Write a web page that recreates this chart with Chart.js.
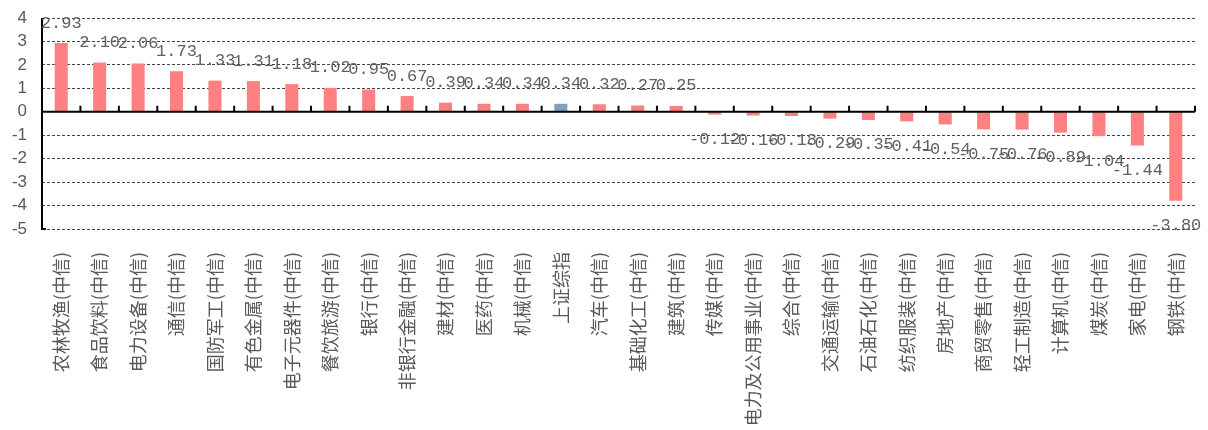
<!DOCTYPE html>
<html>
<head>
<meta charset="utf-8">
<script src="https://cdn.jsdelivr.net/npm/chart.js@4.4.0/dist/chart.umd.min.js"></script>
<style>
  html, body { margin: 0; padding: 0; background: #fff; }
  #box { width: 1208px; height: 430px; }
</style>
</head>
<body>
<div id="box"><canvas id="myChart"></canvas></div>
<script>
var names = ["农林牧渔(中信)", "食品饮料(中信)", "电力设备(中信)", "通信(中信)", "国防军工(中信)",
    "有色金属(中信)", "电子元器件(中信)", "餐饮旅游(中信)", "银行(中信)", "非银行金融(中信)",
    "建材(中信)", "医药(中信)", "机械(中信)", "上证综指", "汽车(中信)",
    "基础化工(中信)", "建筑(中信)", "传媒(中信)", "电力及公用事业(中信)", "综合(中信)",
    "交通运输(中信)", "石油石化(中信)", "纺织服装(中信)", "房地产(中信)", "商贸零售(中信)",
    "轻工制造(中信)", "计算机(中信)", "煤炭(中信)", "家电(中信)", "钢铁(中信)"];
var changes = [2.93, 2.10, 2.06, 1.73, 1.33,
    1.31, 1.18, 1.02, 0.95, 0.67,
    0.39, 0.34, 0.34, 0.34, 0.32,
    0.27, 0.25, -0.12, -0.16, -0.18,
    -0.29, -0.35, -0.41, -0.54, -0.75,
    -0.76, -0.89, -1.04, -1.44, -3.80];
var indexName = "上证综指";
var yMin = -5, yMax = 4;

var barColors = names.map(function (n) {
    return n === indexName ? '#7fa3bf' : '#ff8080';
});

// axis line, zero line, little ticks and value labels
const extras = {
    id: 'extras',
    afterDatasetsDraw(chart) {
        const ctx = chart.ctx;
        const area = chart.chartArea;
        const x = chart.scales.x;
        const y = chart.scales.y;
        const y0 = y.getPixelForValue(0);

        ctx.save();
        ctx.strokeStyle = '#000';
        ctx.lineWidth = 2;
        ctx.beginPath();
        ctx.moveTo(area.left, area.top);
        ctx.lineTo(area.left, area.bottom);
        ctx.lineTo(area.left + 4, area.bottom);
        ctx.moveTo(area.left, y0);
        ctx.lineTo(area.right, y0);
        for (var i = 1; i <= names.length; i++) {
            var bx = (x.getPixelForValue(i - 1) + x.getPixelForValue(i)) / 2;
            if (i === names.length) bx = area.right;
            ctx.moveTo(bx, y0);
            ctx.lineTo(bx, y0 - 6);
        }
        ctx.stroke();

        ctx.fillStyle = '#606060';
        ctx.font = '17px "Liberation Mono"';
        ctx.textAlign = 'center';
        ctx.textBaseline = 'middle';
        chart.getDatasetMeta(0).data.forEach(function (bar, i) {
            var v = changes[i];
            var ty = v >= 0 ? bar.y - 20 : bar.y + 25;
            ctx.fillText(v.toFixed(2), bar.x, ty);
        });
        ctx.restore();
    }
};

const config = {
    type: 'bar',
    data: {
        labels: names,
        datasets: [{
            data: changes,
            backgroundColor: barColors,
            barPercentage: 0.34,
            categoryPercentage: 1
        }]
    },
    options: {
        responsive: true,
        maintainAspectRatio: false,
        animation: false,
        layout: { padding: { top: 18, right: 13, left: 0, bottom: 0 } },
        plugins: {
            legend: { display: false },
            tooltip: { enabled: false }
        },
        scales: {
            x: {
                grid: { display: false },
                border: { display: false },
                ticks: {
                    color: '#595959',
                    font: { family: '"Noto Sans CJK SC"', size: 18 },
                    maxRotation: 90,
                    minRotation: 90,
                    autoSkip: false,
                    padding: 15
                },
                afterFit: function (s) { s.height = 201; s.paddingLeft = 0; s.paddingRight = 0; }
            },
            y: {
                min: yMin,
                max: yMax,
                ticks: {
                    stepSize: 1,
                    autoSkip: false,
                    color: '#595959',
                    font: { family: 'Arial, "Liberation Sans"', size: 17 },
                    padding: 15
                },
                grid: { color: '#444', lineWidth: 1, drawTicks: false },
                border: { display: false, dash: [3, 2] },
                afterFit: function (s) { s.width = 42; s.paddingTop = 0; s.paddingBottom = 0; }
            }
        }
    },
    plugins: [extras]
};

const myChart = new Chart(document.getElementById('myChart'), config);
</script>
</body>
</html>
